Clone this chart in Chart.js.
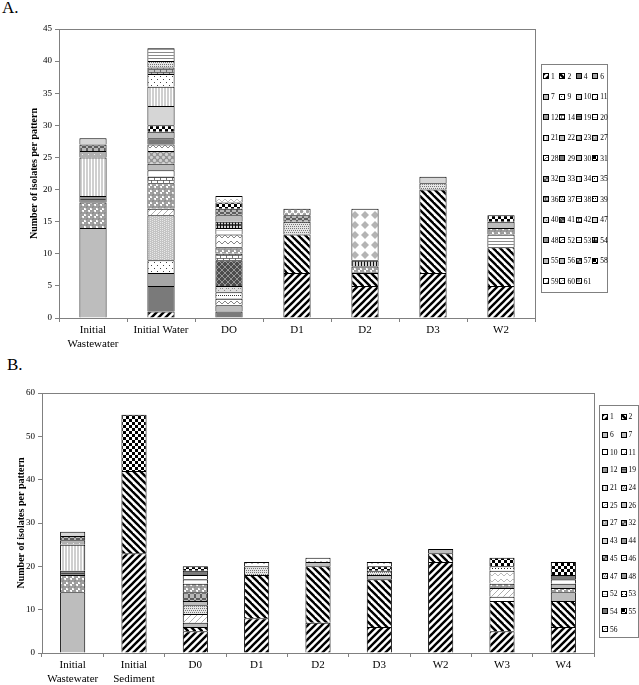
<!DOCTYPE html>
<html>
<head>
<meta charset="utf-8">
<script src="https://cdn.jsdelivr.net/npm/chart.js@4.4.0/dist/chart.umd.min.js"></script>
<style>
  body { margin: 0; width: 639px; height: 685px; background: #fff; position: relative; overflow: hidden; font-family: 'Liberation Serif', 'Times New Roman', serif; }
  .panel-label { position: absolute; font-size: 17px; color: #000; }
  canvas.chart { position: absolute; }
  .legend { position: absolute; border: 1px solid #808080; box-sizing: border-box; display: grid; background: #fff; filter: grayscale(1); }
  .legend .item { display: flex; align-items: center; font-size: 7.5px; color: #000; white-space: nowrap; }
  .legend .sw { width: 4px; height: 4px; border: 1px solid #000; margin-right: 2px; flex: none; }
</style>
</head>
<body>
<div class="panel-label" style="left:2px;top:-2px;">A.</div>
<div class="panel-label" style="left:7px;top:355px;">B.</div>
<canvas id="chartA" class="chart" style="left:0;top:0;" width="537" height="360"></canvas>
<canvas id="chartB" class="chart" style="left:0;top:380px;" width="596" height="305"></canvas>
<div id="legendA" class="legend"></div>
<div id="legendB" class="legend"></div>

<script>
// ---- Panel A data ----
const categoriesA = [['Initial', 'Wastewater'], 'Initial Water', 'DO', 'D1', 'D2', 'D3', 'W2'];
const patternsA = [1, 2, 4, 6, 7, 9, 10, 11, 12, 14, 19, 20, 21, 22, 23, 27, 28, 29, 30, 31, 32, 33, 34, 35, 36, 37, 38, 39, 40, 41, 42, 47, 48, 52, 53, 54, 55, 56, 57, 58, 59, 60, 61];
const ticksA = [0, 5, 10, 15, 20, 25, 30, 35, 40, 45];

// each bar: [pattern, number of isolates], bottom to top
const aInitialWastewater = [[7, 14], [12, 4], [19, 1], [21, 6], [27, 1], [32, 1], [47, 1]];
const aInitialWater = [[1, 1], [4, 4], [6, 2], [9, 2], [10, 7], [11, 1], [12, 4], [14, 1], [20, 1], [22, 1], [23, 2], [28, 1], [29, 1], [30, 1], [31, 1], [33, 3], [34, 3], [35, 2], [36, 1], [37, 1], [38, 2]];
const aDO = [[4, 1], [7, 1], [28, 1], [39, 1], [40, 1], [41, 4], [42, 1], [48, 1], [52, 2], [53, 1], [54, 1], [56, 1], [57, 1], [58, 1], [60, 1]];
const aD1 = [[1, 7], [2, 6], [37, 2], [57, 1], [61, 1]];
const aD2 = [[1, 5], [2, 2], [48, 1], [54, 1], [59, 8]];
const aD3 = [[1, 7], [2, 13], [37, 1], [47, 1]];
const aW2 = [[1, 5], [2, 6], [38, 2], [48, 1], [55, 1], [58, 1]];

// ---- Panel B data ----
const categoriesB = [['Initial', 'Wastewater'], ['Initial', 'Sediment'], 'D0', 'D1', 'D2', 'D3', 'W2', 'W3', 'W4'];
const patternsB = [1, 2, 6, 7, 10, 11, 12, 19, 21, 24, 25, 26, 27, 32, 43, 44, 45, 46, 47, 48, 52, 53, 54, 55, 56];
const ticksB = [0, 10, 20, 30, 40, 50, 60];

const bInitialWastewater = [[7, 14], [12, 4], [19, 1], [21, 6], [27, 1], [32, 1], [43, 1]];
const bInitialSediment = [[1, 23], [2, 19], [55, 13]];
const bD0 = [[1, 5], [2, 1], [6, 1], [11, 2], [24, 2], [26, 1], [45, 2], [48, 2], [52, 1], [53, 1], [54, 1], [55, 1]];
const bD1 = [[1, 8], [2, 10], [24, 2], [46, 1]];
const bD2 = [[1, 7], [2, 13], [26, 1], [56, 1]];
const bD3 = [[1, 6], [2, 11], [26, 1], [47, 1], [55, 1], [56, 1]];
const bW2 = [[1, 21], [2, 2], [6, 1]];
const bW3 = [[1, 5], [2, 7], [10, 1], [11, 2], [44, 1], [46, 3], [53, 1], [55, 2]];
const bW4 = [[1, 6], [2, 6], [6, 2], [12, 1], [26, 1], [52, 1], [54, 1], [55, 3]];

// ---- fill style of each pattern (look only) ----
const lookA = {
  1: 'fwd', 2: 'back', 4: 'darkgray', 6: 'midgray', 7: 'gray', 9: 'sparse', 10: 'finegray', 11: 'lightfwd',
  12: 'circles', 14: 'brick', 19: 'darkthin', 20: 'hwhite', 21: 'vlines', 22: 'gray', 23: 'darkcircles',
  27: 'graydots', 28: 'zigzag', 29: 'darkgray', 30: 'gray', 31: 'checker', 32: 'darkcheck', 33: 'lightgray',
  34: 'vlines', 35: 'sparse', 36: 'graybrick', 37: 'dots', 38: 'hlines', 39: 'hdots', 40: 'smallgraycheck',
  41: 'darkdiamond', 42: 'brick', 47: 'lightgray', 48: 'circles', 52: 'zigzag', 53: 'hwhite', 54: 'darkgrid',
  55: 'gray', 56: 'gray', 57: 'darkcheck', 58: 'checker', 59: 'graydiamond', 60: 'zigzaglight', 61: 'smallcircles'
};
const lookB = {
  1: 'fwd', 2: 'back', 6: 'gray', 7: 'gray', 10: 'white', 11: 'lightfwd', 12: 'circles', 19: 'darkthin',
  21: 'vlines', 24: 'dots', 25: 'zigzaglight', 26: 'gray', 27: 'graydots', 32: 'darkcheck', 43: 'lightgray',
  44: 'circles', 45: 'darkcheck', 46: 'zigzaglight', 47: 'dots', 48: 'circles', 52: 'hwhite', 53: 'dotline',
  54: 'darkgray', 55: 'bigchecker', 56: 'zigzaglight'
};

// petits motifs dessinés dans un canvas, répétés par createPattern
function makeTile(look) {
  const s = look === 'bigchecker' ? 6 : (look === 'graydiamond' ? 10 : (look === 'fwd' || look === 'back' ? 7 : 6));
  const c = document.createElement('canvas');
  c.width = c.height = s;
  const g = c.getContext('2d');
  const fill = (col) => { g.fillStyle = col; g.fillRect(0, 0, s, s); };
  const line = (x1, y1, x2, y2) => { g.beginPath(); g.moveTo(x1, y1); g.lineTo(x2, y2); g.stroke(); };
  switch (look) {
    case 'fwd':
    case 'lightfwd':
      fill('#fff');
      g.strokeStyle = look === 'fwd' ? '#000' : '#999';
      g.lineWidth = look === 'fwd' ? 2.4 : 0.8;
      line(0, s, s, 0); line(-2, 2, 2, -2); line(s - 2, s + 2, s + 2, s - 2);
      break;
    case 'back':
      fill('#fff');
      g.strokeStyle = '#000'; g.lineWidth = 2.4;
      line(0, 0, s, s); line(-2, s - 2, 2, s + 2); line(s - 2, -2, s + 2, 2);
      break;
    case 'darkgray': fill('#7a7a7a'); break;
    case 'midgray': fill('#a6a6a6'); break;
    case 'gray': fill('#bdbdbd'); break;
    case 'lightgray': fill('#d6d6d6'); break;
    case 'white': fill('#fff'); break;
    case 'sparse':
      fill('#fff'); g.fillStyle = '#444';
      g.fillRect(1, 1, 1, 1); g.fillRect(4, 4, 1, 1);
      break;
    case 'finegray':
      fill('#c4c4c4'); g.fillStyle = '#e8e8e8';
      for (let i = 0; i < s; i += 2) for (let j = (i / 2) % 2; j < s; j += 2) g.fillRect(i, j, 1, 1);
      break;
    case 'dots':
      fill('#e6e6e6'); g.fillStyle = '#777';
      for (let i = 0; i < s; i += 2) for (let j = 0; j < s; j += 2) g.fillRect(i + (j % 4 ? 1 : 0), j, 1, 1);
      break;
    case 'graydots':
      fill('#b0b0b0'); g.fillStyle = '#eee';
      g.fillRect(1, 1, 1, 1); g.fillRect(4, 4, 1, 1);
      break;
    case 'circles':
    case 'darkcircles':
    case 'smallcircles':
      fill(look === 'darkcircles' ? '#9a9a9a' : '#fff');
      g.fillStyle = look === 'darkcircles' ? '#d0d0d0' : '#a0a0a0';
      g.strokeStyle = '#777'; g.lineWidth = 0.6;
      const r = look === 'smallcircles' ? 1.3 : 2.2;
      g.beginPath(); g.arc(1.5, 1.5, r, 0, Math.PI * 2); g.fill(); g.stroke();
      g.beginPath(); g.arc(4.5, 4.5, r, 0, Math.PI * 2); g.fill(); g.stroke();
      break;
    case 'brick':
    case 'graybrick':
      fill(look === 'brick' ? '#fff' : '#c8c8c8');
      g.strokeStyle = '#555'; g.lineWidth = 0.8;
      line(0, 0.5, s, 0.5); line(0, 3.5, s, 3.5); line(1.5, 0, 1.5, 3); line(4.5, 3, 4.5, s);
      break;
    case 'darkthin':
      fill('#909090'); g.strokeStyle = '#444'; g.lineWidth = 1;
      line(0, 1.5, s, 1.5); line(0, 4.5, s, 4.5);
      break;
    case 'hwhite':
      fill('#fff'); g.strokeStyle = '#aaa'; g.lineWidth = 0.6;
      line(0, 2.5, s, 2.5);
      break;
    case 'vlines':
      fill('#cfcfcf'); g.strokeStyle = '#fff'; g.lineWidth = 1;
      line(1.5, 0, 1.5, s); line(4.5, 0, 4.5, s);
      break;
    case 'hlines':
      fill('#fff'); g.strokeStyle = '#8a8a8a'; g.lineWidth = 1;
      line(0, 1.5, s, 1.5); line(0, 4.5, s, 4.5);
      break;
    case 'hdots':
      fill('#fff'); g.fillStyle = '#333';
      g.fillRect(0, 1, 1, 1); g.fillRect(2, 1, 1, 1); g.fillRect(4, 1, 1, 1);
      g.fillStyle = '#bbb'; g.fillRect(0, 4, s, 1);
      break;
    case 'dotline':
      fill('#fff'); g.fillStyle = '#222';
      g.fillRect(0, 2, 1, 1); g.fillRect(3, 2, 1, 1);
      break;
    case 'checker':
    case 'bigchecker': {
      fill('#fff'); g.fillStyle = '#000';
      const h = s / 2;
      g.fillRect(0, 0, h, h); g.fillRect(h, h, h, h);
      break;
    }
    case 'smallgraycheck':
      fill('#ddd'); g.fillStyle = '#888';
      for (let i = 0; i < s; i += 2) for (let j = 0; j < s; j += 2) if ((i + j) % 4 === 0) g.fillRect(i, j, 1, 1);
      break;
    case 'darkcheck':
      fill('#5e5e5e'); g.fillStyle = '#b8b8b8';
      for (let i = 0; i < s; i += 2) for (let j = 0; j < s; j += 2) if ((i + j) % 4 === 0) g.fillRect(i, j, 2, 2);
      break;
    case 'darkdiamond':
      fill('#4c4c4c'); g.strokeStyle = '#aaa'; g.lineWidth = 0.8;
      line(0, 0, s, s); line(0, s, s, 0);
      break;
    case 'darkgrid':
      fill('#fff'); g.strokeStyle = '#111'; g.lineWidth = 1.4;
      line(0, 3, s, 3); line(1.5, 0, 1.5, s); line(4.5, 0, 4.5, s);
      break;
    case 'zigzag':
    case 'zigzaglight':
      fill('#fff'); g.strokeStyle = look === 'zigzag' ? '#666' : '#aaa'; g.lineWidth = 0.8;
      g.beginPath(); g.moveTo(0, 4); g.lineTo(3, 1); g.lineTo(6, 4); g.stroke();
      break;
    case 'graydiamond':
      fill('#fff'); g.fillStyle = '#b4b4b4';
      g.beginPath(); g.moveTo(5, 1); g.lineTo(9, 5); g.lineTo(5, 9); g.lineTo(1, 5); g.closePath(); g.fill();
      break;
    default:
      fill('#ccc');
  }
  return c;
}

const tileCache = {};
function tileFor(look) {
  if (!tileCache[look]) tileCache[look] = makeTile(look);
  return tileCache[look];
}

// construit un dataset par motif à partir des barres
function buildDatasets(ctx, patterns, bars, look) {
  return patterns.map(p => ({
    label: String(p),
    data: bars.map(bar => {
      const hit = bar.find(seg => seg[0] === p);
      return hit ? hit[1] : null;
    }),
    backgroundColor: ctx.createPattern(tileFor(look[p]), 'repeat'),
    borderColor: '#000',
    borderWidth: { top: 1, left: 1, right: 1, bottom: 0 },
    borderSkipped: false,
    stack: 's'
  }));
}

// cadre gris autour de la zone du graphique
const plotFrame = {
  id: 'plotFrame',
  afterDraw(chart) {
    const { ctx, chartArea: a } = chart;
    ctx.save();
    ctx.strokeStyle = '#808080';
    ctx.lineWidth = 1;
    ctx.strokeRect(Math.round(a.left) + 0.5, Math.round(a.top) + 0.5, Math.round(a.right - a.left), Math.round(a.bottom - a.top));
    ctx.restore();
  }
};

function makeChart(id, categories, bars, patterns, look, ticks, yWidth, xHeight, padTop, titlePad, barPct) {
  const ctx = document.getElementById(id).getContext('2d');
  const tickMax = ticks[ticks.length - 1];
  return new Chart(ctx, {
    type: 'bar',
    data: { labels: categories, datasets: buildDatasets(ctx, patterns, bars, look) },
    options: {
      responsive: false,
      animation: false,
      layout: { padding: { top: padTop, right: 2, left: 0, bottom: 0 } },
      plugins: { legend: { display: false }, tooltip: { enabled: false } },
      datasets: { bar: { categoryPercentage: 1, barPercentage: barPct } },
      scales: {
        x: {
          stacked: true,
          grid: { drawOnChartArea: false, offset: true, tickLength: 4, color: '#808080' },
          border: { color: '#808080' },
          ticks: { color: '#000', font: { family: 'Liberation Serif', size: 11 }, padding: 2, maxRotation: 0, autoSkip: false },
          afterFit: s => { s.height = xHeight; }
        },
        y: {
          stacked: true,
          min: 0,
          max: tickMax,
          afterBuildTicks: s => { s.ticks = ticks.map(v => ({ value: v })); },
          grid: { drawOnChartArea: false, tickLength: 4, color: '#808080' },
          border: { color: '#808080' },
          ticks: { color: '#000', font: { family: 'Liberation Serif', size: 9 }, padding: 3 },
          title: {
            display: true,
            text: 'Number of isolates per pattern',
            color: '#000',
            font: { family: 'Liberation Serif', size: 10, weight: 'bold' },
            padding: { top: titlePad, bottom: 0 }
          },
          afterFit: s => { s.width = yWidth; }
        }
      }
    },
    plugins: [plotFrame]
  });
}

function buildLegend(id, patterns, look, box, cols, rowH, colW) {
  const el = document.getElementById(id);
  el.style.left = box.left + 'px';
  el.style.top = box.top + 'px';
  el.style.width = box.width + 'px';
  el.style.height = box.height + 'px';
  el.style.gridTemplateColumns = `repeat(${cols}, ${colW}px)`;
  el.style.gridAutoRows = rowH + 'px';
  el.style.padding = `${box.padTop}px 0 0 ${box.padLeft}px`;
  el.style.alignContent = 'start';
  patterns.forEach(p => {
    const item = document.createElement('div');
    item.className = 'item';
    const sw = document.createElement('span');
    sw.className = 'sw';
    sw.style.backgroundImage = `url(${tileFor(look[p]).toDataURL()})`;
    item.appendChild(sw);
    item.appendChild(document.createTextNode(String(p)));
    el.appendChild(item);
  });
}

makeChart('chartA', categoriesA,
  [aInitialWastewater, aInitialWater, aDO, aD1, aD2, aD3, aW2],
  patternsA, lookA, ticksA, 59, 42, 29, 28, 0.4);

makeChart('chartB', categoriesB,
  [bInitialWastewater, bInitialSediment, bD0, bD1, bD2, bD3, bW2, bW3, bW4],
  patternsB, lookB, ticksB, 42, 32, 13, 15, 0.41);

buildLegend('legendA', patternsA, lookA, { left: 541, top: 64, width: 67, height: 229, padTop: 1, padLeft: 1 }, 4, 20.5, 16.4);
buildLegend('legendB', patternsB, lookB, { left: 599, top: 405, width: 40, height: 233, padTop: 2, padLeft: 2 }, 2, 17.7, 18.5);
</script>
</body>
</html>
